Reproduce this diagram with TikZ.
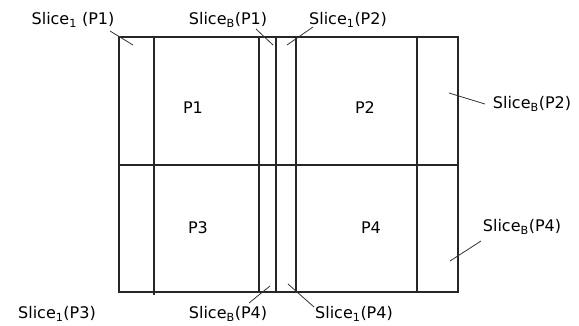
\documentclass[tikz,border=0pt]{standalone}
\usepackage{fontspec}
\setmainfont{DejaVu Sans}
\begin{document}
\begin{tikzpicture}[x=1pt,y=-1pt,
  frame/.style={line width=1.3pt,draw=black!85},
  leader/.style={line width=0.8pt,draw=black!80},
  lbl/.style={inner sep=0pt,font=\fontsize{16}{18}\selectfont},
  part/.style={inner sep=0pt,font=\fontsize{16}{18}\selectfont}]
\useasboundingbox (0,0) rectangle (579,325);
% frame
\coordinate (tl) at (119,37);
\coordinate (br) at (458,292);
\draw[frame] (tl) rectangle (br);
\coordinate (ml) at (119,165);
\coordinate (mr) at (458,165);
\draw[frame] (ml) -- (mr);
\foreach \x/\yb in {154/295,259/292,276/292,296/293,417/292}{
  \draw[frame] (\x,37) -- (\x,\yb);
}
% part labels
\node[part] (p1) at (193,108) {P1};
\node[part] (p2) at (365,108) {P2};
\node[part] (p3) at (198,228) {P3};
\node[part] (p4) at (371,228) {P4};
% slice labels
\node[lbl] (s1p1) at (73,20) {Slice\textsubscript{1} (P1)};
\node[lbl] (sbp1) at (228,20) {Slice\textsubscript{B}(P1)};
\node[lbl] (s1p2) at (348,20) {Slice\textsubscript{1}(P2)};
\node[lbl] (sbp2) at (532,104) {Slice\textsubscript{B}(P2)};
\node[lbl] (sbp4r) at (522,227) {Slice\textsubscript{B}(P4)};
\node[lbl] (s1p3) at (57,314) {Slice\textsubscript{1}(P3)};
\node[lbl] (sbp4b) at (228,314) {Slice\textsubscript{B}(P4)};
\node[lbl] (s1p4) at (354,314) {Slice\textsubscript{1}(P4)};
% leader ends
\coordinate (a1) at (110,31); \coordinate (a2) at (133,45);
\coordinate (b1) at (256,29); \coordinate (b2) at (273,45);
\coordinate (c1) at (313,27); \coordinate (c2) at (287,45);
\coordinate (d1) at (449,93); \coordinate (d2) at (485,104);
\coordinate (e1) at (450,261); \coordinate (e2) at (481,241);
\coordinate (f1) at (249,303); \coordinate (f2) at (270,286);
\coordinate (g1) at (288,284); \coordinate (g2) at (314,307);
\draw[leader] (a1) -- (a2);
\draw[leader] (b1) -- (b2);
\draw[leader] (c1) -- (c2);
\draw[leader] (d1) -- (d2);
\draw[leader] (e1) -- (e2);
\draw[leader] (f1) -- (f2);
\draw[leader] (g1) -- (g2);
\end{tikzpicture}
\end{document}
